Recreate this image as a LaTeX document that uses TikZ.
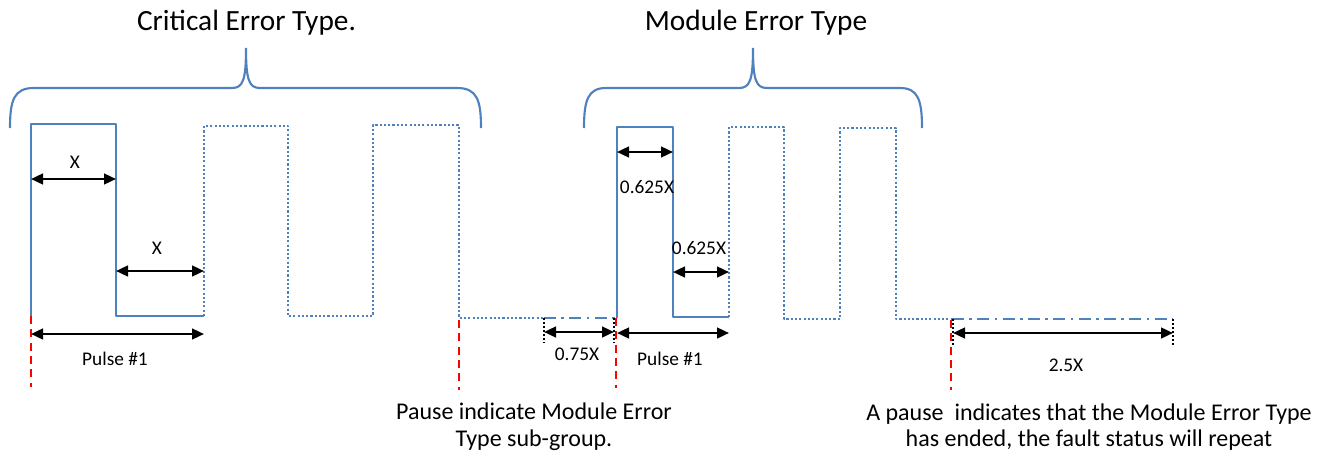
\documentclass[tikz,border=0pt]{standalone}
\usepackage{fontspec}
\setmainfont{Carlito}
\usetikzlibrary{arrows.meta}
\definecolor{sigblue}{RGB}{79,129,189}

\begin{document}
\begin{tikzpicture}[x=0.75pt,y=-0.75pt]
	\tikzstyle{wave} = [line width=1.6pt, draw=sigblue, line join=round]
	\tikzstyle{ghost} = [wave, dash pattern=on 1.6pt off 1.6pt]
	\tikzstyle{dashdot} = [wave, dash pattern=on 9pt off 4pt on 2pt off 4pt]
	\tikzstyle{marker} = [line width=1.5pt, draw=red, dash pattern=on 6pt off 4pt]
	\tikzstyle{tick} = [line width=1.5pt, draw=black, dash pattern=on 1.5pt off 1.5pt]
	\tikzstyle{arrow} = [line width=1.8pt, {Triangle[length=9pt,width=8pt]}-{Triangle[length=9pt,width=8pt]}]
	\tikzstyle{brace} = [line width=1.6pt, draw=sigblue]
	\tikzstyle{label} = [font=\fontsize{14.5}{17}\selectfont]
	\tikzstyle{title} = [font=\fontsize{22}{26}\selectfont]
	\tikzstyle{note} = [font=\fontsize{18}{20}\selectfont, align=center]

	\useasboundingbox (0,0) rectangle (1330,457);

	% critical error type
	\draw [wave] (31,316) -- (31,124) -- (116,124) -- (116,316) -- (204,316);
	\draw [ghost] (204,316) -- (204,126) -- (288,126) -- (288,316) -- (373,316)
		-- (373,125) -- (459,125) -- (459,318) -- (544,318);
	\draw [dashdot] (544,318) -- (617,318);
	\draw [marker] (31,316) -- (31,387);
	\draw [marker] (459,320) -- (459,390);

	\coordinate (c0) at (31,179);
	\coordinate (c1) at (116,179);
	\coordinate (c2) at (116,271);
	\coordinate (c3) at (204,271);
	\coordinate (c4) at (31,334);
	\coordinate (c5) at (204,334);
	\draw [arrow] (c0) -- (c1);
	\draw [arrow] (c2) -- (c3);
	\draw [arrow] (c4) -- (c5);
	\node (xa) [label] at (75,162) {X};
	\node (xb) [label] at (157,248) {X};
	\node (pa) [label] at (115,359) {Pulse \#1};

	% pause
	\draw [tick] (544,318) -- (544,343);
	\draw [tick] (614,318) -- (614,343);
	\coordinate (g0) at (544,332);
	\coordinate (g1) at (614,332);
	\draw [arrow] (g0) -- (g1);
	\node (ga) [label] at (577,354) {0.75X};

	% module error type
	\draw [wave] (617,318) -- (617,127) -- (673,127) -- (673,317) -- (729,317);
	\draw [ghost] (729,317) -- (729,127) -- (784,127) -- (784,319) -- (840,319)
		-- (840,128) -- (896,128) -- (896,319) -- (952,319);
	\draw [dashdot] (952,319) -- (1173,319);
	\draw [marker] (616,318) -- (616,388);
	\draw [marker] (951,320) -- (951,390);
	\draw [tick] (953,319) -- (953,345);
	\draw [tick] (1173,319) -- (1173,345);

	\coordinate (m0) at (617,152);
	\coordinate (m1) at (673,152);
	\coordinate (m2) at (673,272);
	\coordinate (m3) at (729,272);
	\coordinate (m4) at (617,333);
	\coordinate (m5) at (729,333);
	\coordinate (e0) at (953,333);
	\coordinate (e1) at (1173,333);
	\draw [arrow] (m0) -- (m1);
	\draw [arrow] (m2) -- (m3);
	\draw [arrow] (m4) -- (m5);
	\draw [arrow] (e0) -- (e1);
	\node (ma) [label] at (647,187) {0.625X};
	\node (mb) [label] at (699,248) {0.625X};
	\node (pb) [label] at (670,359) {Pulse \#1};
	\node (ea) [label] at (1066,365) {2.5X};

	% braces
	\draw [brace] (10,128) .. controls (10,100) and (14,88) .. (34,88) -- (232,88)
		.. controls (243,88) and (246,80) .. (246,48)
		.. controls (246,80) and (249,88) .. (260,88) -- (457,88)
		.. controls (477,88) and (481,100) .. (481,128);
	\draw [brace] (584,128) .. controls (584,100) and (588,88) .. (606,88) -- (739,88)
		.. controls (750,88) and (753,80) .. (753,48)
		.. controls (753,80) and (756,88) .. (767,88) -- (900,88)
		.. controls (918,88) and (922,100) .. (922,128);
	\node (crit) [title] at (246.5,23) {Critical Error Type.};
	\node (mod) [title] at (756,23) {Module Error Type};

	% notes
	\node (n1) [note] at (534,427) {Pause indicate Module Error\\Type sub-group.};
	\node (n2) [note] at (1089,427) {A pause\ \ indicates that the Module Error Type\\has ended, the fault status will repeat};
\end{tikzpicture}
\end{document}
